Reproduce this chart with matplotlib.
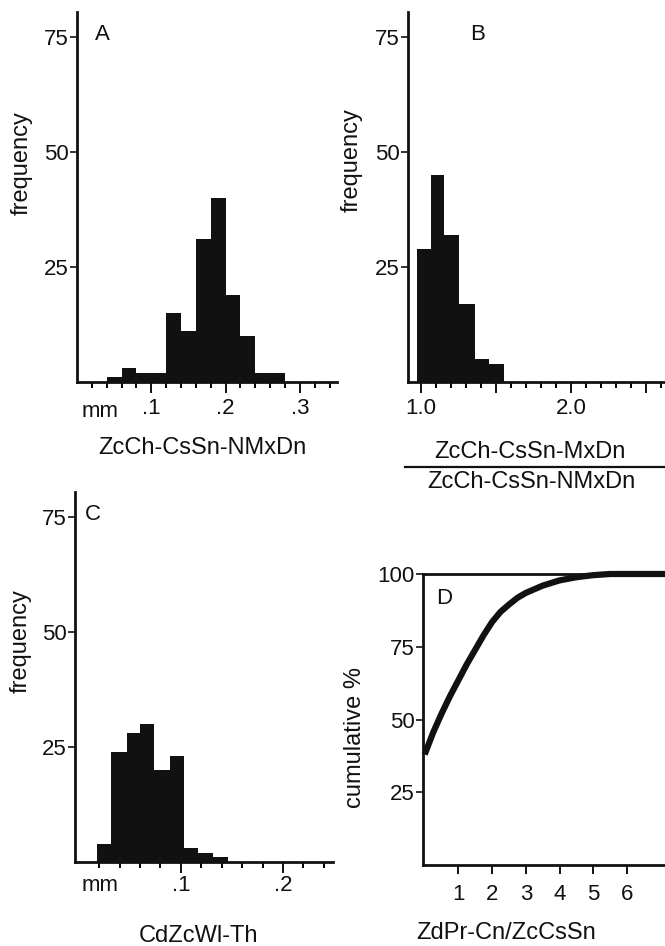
import numpy as np
import matplotlib.pyplot as plt
from matplotlib.lines import Line2D

plt.rcParams['font.family'] = ['Liberation Sans', 'DejaVu Sans']

W, H = 665, 946
INK = '#111111'

# A: ZcCh-CsSn-NMxDn, mm
a_edges = [0.04, 0.06, 0.08, 0.10, 0.12, 0.14, 0.16, 0.18, 0.20, 0.22, 0.24, 0.26, 0.28]
a_counts = [1, 3, 2, 2, 15, 11, 31, 40, 19, 10, 2, 2]

# B: ratio MxDn / NMxDn
b_edges = [0.97, 1.065, 1.155, 1.255, 1.36, 1.45, 1.55]
b_counts = [29, 45, 32, 17, 5, 4]

# C: CdZcWl-Th, mm
c_edges = [0.0176, 0.0314, 0.047, 0.060, 0.0738, 0.0895, 0.103, 0.117, 0.1317, 0.146]
c_counts = [4, 24, 28, 30, 20, 23, 3, 2, 1]

# D: cumulative %
d_x = [0.0, 0.25, 0.5, 0.75, 1.0, 1.25, 1.5, 1.75, 2.0, 2.25, 2.5, 2.75, 3.0,
       3.5, 4.0, 4.5, 5.0, 5.5, 7.2]
d_y = [38, 45.5, 52, 58, 63.5, 69, 74, 79, 83.5, 87, 89.5, 91.8, 93.5,
       96, 97.8, 98.9, 99.6, 100, 100]

fig = plt.figure(figsize=(6.65, 9.46), dpi=100)


def box(l, t, r, b):
    # pixel box -> figure fraction rect
    return [l / W, 1 - b / H, (r - l) / W, (b - t) / H]


def ftext(x, y, s, **kw):
    kw.setdefault('ha', 'center')
    kw.setdefault('va', 'center')
    kw.setdefault('color', INK)
    fig.text(x / W, 1 - y / H, s, **kw)


def style(ax):
    for s in ['top', 'right']:
        ax.spines[s].set_visible(False)
    for s in ['left', 'bottom']:
        ax.spines[s].set_linewidth(2)
        ax.spines[s].set_color(INK)
    ax.tick_params(colors=INK, labelcolor=INK)
    ax.tick_params(axis='y', length=5, width=1.2, pad=1, labelsize=16)


def hist_panel(rect, edges, counts, xlim, major, major_labels, minor, xpad):
    ax = fig.add_axes(rect)
    ax.bar(edges[:-1], counts, width=np.diff(edges), align='edge',
           color=INK, linewidth=0)
    ax.set_xlim(xlim)
    ax.set_ylim(0, 80.4)
    style(ax)
    ax.set_yticks([25, 50, 75])
    ax.set_xticks(major, major_labels)
    ax.set_xticks(minor, minor=True)
    ax.tick_params(axis='x', which='major', length=8, width=1.4, pad=xpad, labelsize=16)
    ax.tick_params(axis='x', which='minor', length=4.5, width=1.4)
    return ax


# A
hist_panel(box(77, 12, 337, 382), a_edges, a_counts, (0, 0.35),
           [0.1, 0.2, 0.3], ['.1', '.2', '.3'], np.arange(0.02, 0.35, 0.02), 3.5)
ftext(102, 34, 'A', fontsize=16)
ftext(100, 417, 'mm', fontsize=16, va='baseline')
ftext(22, 163, 'frequency', fontsize=17, rotation=90)
ftext(202, 448, 'ZcCh-CsSn-NMxDn', fontsize=17)

# B
hist_panel(box(408, 12, 665, 382), b_edges, b_counts, (0.913, 2.627),
           [1.0, 1.5, 2.0, 2.5], ['1.0', '', '2.0', ''], np.arange(1.0, 2.65, 0.1), 3.5)
ftext(478, 34, 'B', fontsize=16)
ftext(352, 160, 'frequency', fontsize=17, rotation=90)
ftext(530, 452, 'ZcCh-CsSn-MxDn', fontsize=17)
fig.add_artist(Line2D([405 / W, 665 / W], [1 - 467 / H, 1 - 467 / H], lw=1.6, color=INK))
ftext(531, 482, 'ZcCh-CsSn-NMxDn', fontsize=17)

# C
hist_panel(box(75, 492, 333, 862), c_edges, c_counts, (-0.0036, 0.249),
           [0.1, 0.2], ['.1', '.2'], np.arange(0.02, 0.25, 0.02), 1.5)
ftext(93, 514, 'C', fontsize=16)
ftext(100, 891, 'mm', fontsize=16, va='baseline')
ftext(21, 641, 'frequency', fontsize=17, rotation=90)
ftext(199, 936, 'CdZcWl-Th', fontsize=17)

# D
ax = fig.add_axes(box(423, 574, 665, 865))
ax.plot(d_x, d_y, color=INK, lw=4.5, solid_capstyle='butt',
        solid_joinstyle='round', clip_on=False)
ax.set_xlim(-0.05, 7.13)
ax.set_ylim(0, 100)
style(ax)
ax.spines['top'].set_visible(True)
ax.spines['top'].set_linewidth(2)
ax.spines['top'].set_color(INK)
ax.set_yticks([25, 50, 75, 100])
ax.set_xticks([1, 2, 3, 4, 5, 6])
ax.tick_params(axis='x', length=6.5, width=1.4, pad=7, labelsize=16)
ftext(444, 598, 'D', fontsize=16)
ftext(355, 737, 'cumulative %', fontsize=17, rotation=90)
ftext(506, 933, 'ZdPr-Cn/ZcCsSn', fontsize=17)

fig.savefig('out.png', dpi=100, facecolor='white')
